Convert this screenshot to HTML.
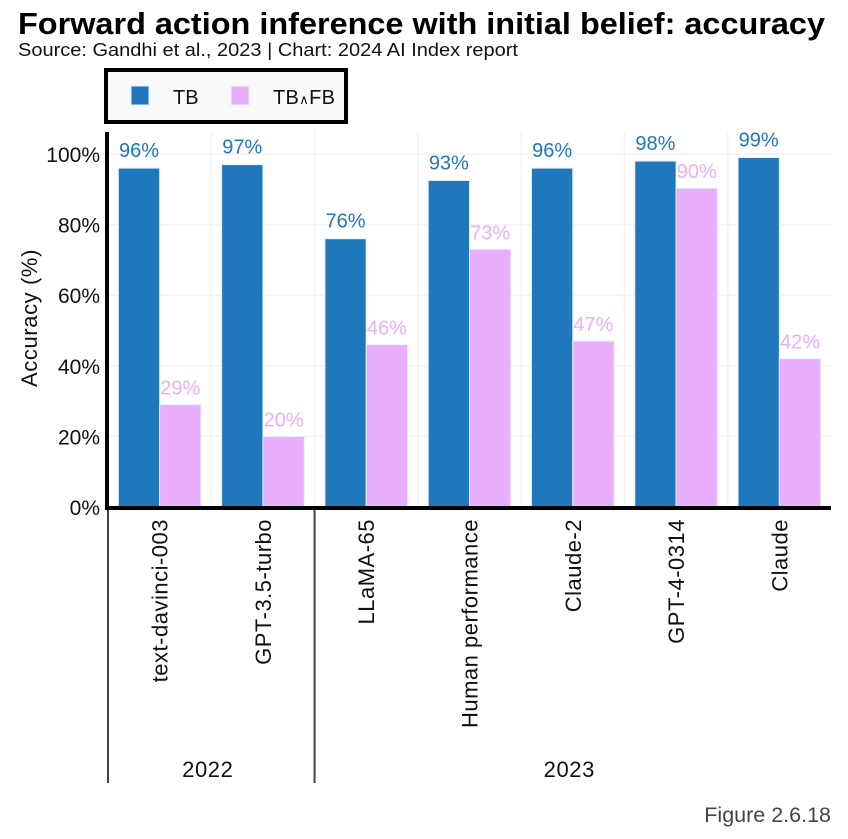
<!DOCTYPE html>
<html lang="en">
<head>
<meta charset="utf-8">
<title>Forward action inference with initial belief: accuracy</title>
<style>
html,body{margin:0;padding:0;background:#fff;width:848px;height:839px;overflow:hidden}
svg{display:block;font-family:"Liberation Sans",sans-serif}
</style>
</head>
<body>
<svg id="chart" width="848" height="839" viewBox="0 0 848 839" xmlns="http://www.w3.org/2000/svg">
  <text x="18" y="34" font-size="30.5" font-weight="700" fill="#000" textLength="807" lengthAdjust="spacingAndGlyphs">Forward action inference with initial belief: accuracy</text>
  <text x="18" y="56" font-size="18" fill="#111" textLength="500" lengthAdjust="spacingAndGlyphs">Source: Gandhi et al., 2023 | Chart: 2024 AI Index report</text>
  <g id="plot"></g>
  <g>
    <rect x="106" y="70" width="240" height="52" fill="#f9f9f9" stroke="#000" stroke-width="4"/>
    <rect x="131" y="86" width="18" height="19" fill="#1f77bc" stroke="#e8eefc" stroke-width="1"/>
    <text x="173" y="104" font-size="20" fill="#111">TB</text>
    <rect x="231" y="86" width="18" height="19" fill="#e9aefe" stroke="#e8eefc" stroke-width="1"/>
    <text x="273" y="104" font-size="20" fill="#111" textLength="62" lengthAdjust="spacing">TB<tspan font-size="13">∧</tspan>FB</text>
  </g>
  <text x="831" y="822" font-size="21.5" fill="#444" text-anchor="end">Figure 2.6.18</text>
</svg>
<script>
const categories = ["text-davinci-003", "GPT-3.5-turbo", "LLaMA-65", "Human performance", "Claude-2", "GPT-4-0314", "Claude"];
const tbValues = [96, 97, 76, 92.5, 96, 98, 99];
const tbFbValues = [29, 20, 46, 73, 47, 90.3, 42];
const yTicks = [0, 20, 40, 60, 80, 100];
const yearLabels = ["2022", "2023"];
const yearCounts = [2, 5];

const NS = "http://www.w3.org/2000/svg";
const plot = document.getElementById("plot");
const left = 108, right = 831, bottom = 507, top_ = 132, pxPerPct = 3.53;
const band = (right - left) / categories.length;
const xBand = i => left + i * band;
const yScale = v => bottom - v * pxPerPct;
const BLUE = "#1f77bc", PINK = "#e9aefe";

function make(tag, attrs, text) {
  const el = document.createElementNS(NS, tag);
  for (const k in attrs) el.setAttribute(k, attrs[k]);
  if (text !== undefined) el.textContent = text;
  plot.appendChild(el);
  return el;
}

yTicks.forEach(t => {
  const g = make("line", {x1: left, x2: right, y1: yScale(t), y2: yScale(t), stroke: "#f3f3f3", "stroke-width": 1.5});
  
  
  const l = make("text", {x: 100, y: yScale(t) + 8, "font-size": 21, "text-anchor": "end", fill: "#111"}, t + "%");
  
  
});
for (let i = 1; i < categories.length; i++) {
  const g = make("line", {x1: xBand(i), x2: xBand(i), y1: top_, y2: bottom, stroke: "#f3f3f3", "stroke-width": 1.5});
  
  
}

categories.forEach((c, i) => {
  const w = band * 0.4;
  const x0 = xBand(i) + band * 0.1;
  const b1 = make("rect", {x: x0, y: yScale(tbValues[i]), width: w, height: bottom - yScale(tbValues[i]), fill: BLUE, stroke: "#e8eefc", "stroke-width": 1});
  
  
  const b2 = make("rect", {x: x0 + w, y: yScale(tbFbValues[i]), width: w, height: bottom - yScale(tbFbValues[i]), fill: PINK, stroke: "#e8eefc", "stroke-width": 1});
  
  
  const l1 = make("text", {x: x0 + w / 2, y: yScale(tbValues[i]) - 11, "font-size": 20, "text-anchor": "middle", fill: BLUE}, Math.round(tbValues[i]) + "%");
  
  
  const l2 = make("text", {x: x0 + w * 1.5, y: yScale(tbFbValues[i]) - 10, "font-size": 20, "text-anchor": "middle", fill: PINK}, Math.round(tbFbValues[i]) + "%");
  
  
  const cx = xBand(i) + band / 2 + 8;
  const cat = make("text", {transform: "translate(" + cx + ",519) rotate(-90)", "font-size": 22, "letter-spacing": 0.5, "text-anchor": "end", fill: "#111"}, c);
  
  
});

let start = 0;
yearLabels.forEach((y, i) => {
  const x0 = xBand(start), x1 = xBand(start + yearCounts[i]);
  const d = make("line", {x1: x0, x2: x0, y1: bottom, y2: 783, stroke: "#444", "stroke-width": 2});
  
  
  const t = make("text", {x: (x0 + x1) / 2 - 3.5, y: 777, "font-size": 22, "letter-spacing": 0.6, "text-anchor": "middle", fill: "#111"}, y);
  
  
  start += yearCounts[i];
});

const yAxis = make("line", {x1: 107, x2: 107, y1: top_, y2: bottom + 2, stroke: "#000", "stroke-width": 4});


const xAxis = make("line", {x1: 105, x2: right, y1: bottom + 1, y2: bottom + 1, stroke: "#000", "stroke-width": 4});


const yTitle = make("text", {transform: "translate(37,318) rotate(-90)", "font-size": 22, "letter-spacing": 0.6, "text-anchor": "middle", fill: "#111"}, "Accuracy (%)");


</script>
</body>
</html>
